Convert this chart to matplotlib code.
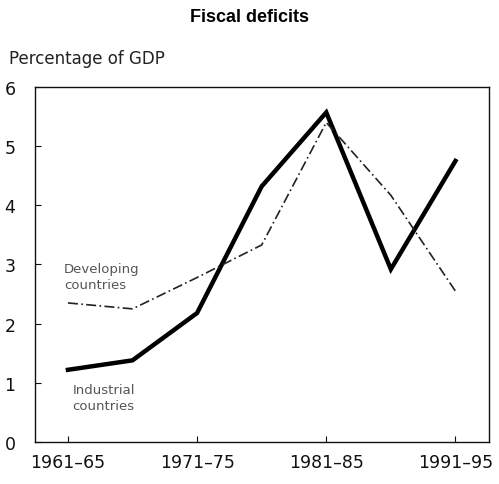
import numpy as np
import matplotlib
matplotlib.use("Agg")
import matplotlib.pyplot as plt

periods = ["1961-65", "1966-70", "1971-75", "1976-80", "1981-85", "1986-90", "1991-95"]
industrial = [1.22, 1.38, 2.18, 4.32, 5.57, 2.92, 4.75]
developing = [2.35, 2.25, 2.78, 3.33, 5.40, 4.17, 2.55]
tick_labels = ["1961\u201365", "1971\u201375", "1981\u201385", "1991\u201395"]
tick_idx = [0, 2, 4, 6]

plt.rcParams["font.family"] = ["DejaVu Sans"]

fig = plt.figure(figsize=(4.99, 4.85), dpi=100)
ax = fig.add_axes([0.0701, 0.0866, 0.9099, 0.732])

x = np.arange(len(periods))
ax.plot(x, industrial, color="black", linewidth=3.2, solid_joinstyle="miter")
ax.plot(x, developing, color="#222222", linewidth=1.2, linestyle=(0, (6, 2, 1, 2)))

ax.set_xlim(-0.51, 6.52)
ax.set_ylim(0, 6)
ax.set_yticks(range(0, 7))
ax.set_xticks(tick_idx)
ax.set_xticklabels(tick_labels)
ax.tick_params(direction="in", length=4, width=0.8, labelsize=12.5, colors="#111111")
ax.tick_params(axis="y", pad=14)
ax.tick_params(axis="x", pad=8)
for s in ax.spines.values():
    s.set_linewidth(1.0)
    s.set_color("#111111")

ax.text(-0.06, 2.8, "Developing\ncountries", fontsize=9.5, color="#555555",
        ha="left", va="center", linespacing=1.3)
ax.text(0.07, 0.75, "Industrial\ncountries", fontsize=9.5, color="#555555",
        ha="left", va="center", linespacing=1.3)

fig.text(0.5, 0.963, "Fiscal deficits", fontsize=13, fontweight="bold",
         family="Liberation Sans", ha="center", va="center")
fig.text(0.018, 0.878, "Percentage of GDP", fontsize=12, color="#222222",
         ha="left", va="center")

fig.savefig("out.png", dpi=100)
